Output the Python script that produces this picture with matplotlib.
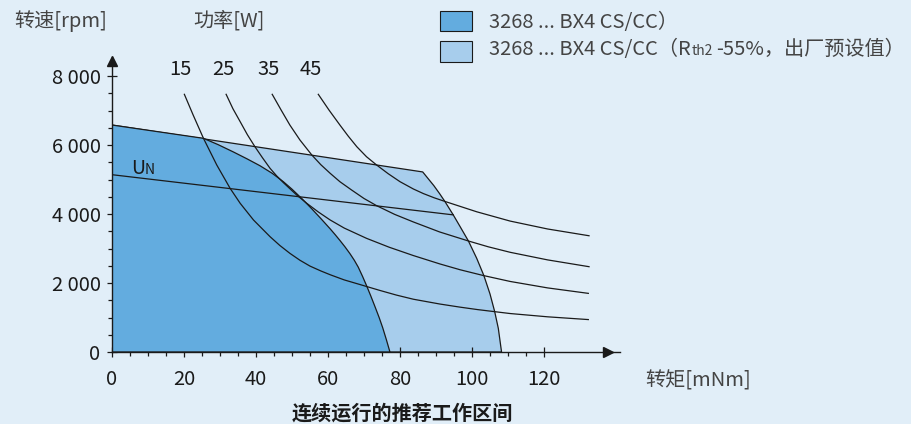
import matplotlib
matplotlib.use("Agg")
import matplotlib.pyplot as plt
from matplotlib.patches import Polygon, Rectangle
from matplotlib.ticker import FixedLocator
from matplotlib.transforms import offset_copy

plt.rcParams['font.family'] = ['Noto Sans CJK SC', 'DejaVu Sans']

# ---------------- data ----------------
power_levels = [15, 25, 35, 45]

p15_torque = [20.1, 22.5, 25.4, 29.1, 32.8, 35.6, 39.3, 43.9, 46.6, 49.4, 52.2, 55.0, 58.0, 60.6,
              64.5, 68.9, 74.4, 79.0, 83.7, 91.1, 96.7, 101.5, 106.3, 110.6, 121.0, 132.3]
p15_speed = [7470, 6880, 6195, 5421, 4746, 4311, 3827, 3343, 3090, 2861, 2660, 2490, 2350, 2240,
             2090, 1955, 1785, 1650, 1530, 1390, 1300, 1230, 1169, 1115, 1020, 940]

p25_torque = [31.7, 33.6, 35.6, 37.6, 39.7, 41.8, 43.9, 45.7, 47.6, 49.5, 51.3, 54.1, 57.3, 60.6,
              64.5, 70.7, 77.0, 83.7, 91.1, 96.7, 103.1, 110.6, 121.0, 132.3]
p25_speed = [7470, 7050, 6677, 6300, 5951, 5630, 5325, 5110, 4910, 4725, 4551, 4311, 4060, 3827,
             3593, 3295, 3037, 2796, 2552, 2384, 2218, 2045, 1858, 1700]

p35_torque = [44.5, 47.0, 49.4, 52.2, 55.5, 58.0, 60.6, 63.3, 66.5, 70.0, 73.5, 78.5, 83.7, 91.0,
              99.0, 104.5, 110.6, 121.0, 132.5]
p35_speed = [7470, 7010, 6580, 6146, 5711, 5430, 5180, 4937, 4700, 4450, 4242, 3990, 3770, 3480,
             3218, 3050, 2890, 2670, 2473]

p45_torque = [57.3, 60.3, 63.3, 65.6, 68.0, 70.7, 73.5, 76.7, 80.0, 83.7, 86.5, 89.5, 92.5, 101.3,
              110.6, 121.0, 132.5]
p45_speed = [7470, 7010, 6580, 6260, 5951, 5660, 5421, 5170, 4937, 4726, 4592, 4470, 4364, 4065,
             3795, 3566, 3370]

power_torque = [p15_torque, p25_torque, p35_torque, p45_torque]
power_speed = [p15_speed, p25_speed, p35_speed, p45_speed]

# recommended operating range, standard (dark)
std_torque = [0.0, 25.4, 29.5, 33.7, 37.5, 41.1, 44.5, 47.6, 50.0, 52.7, 55.5, 58.0, 60.6, 62.0,
              63.3, 64.7, 66.1, 67.3, 68.4, 69.6, 70.7, 71.9, 73.1, 74.2, 75.2, 76.2, 77.2]
std_speed = [6580, 6195, 6010, 5800, 5600, 5400, 5180, 4937, 4720, 4450, 4150, 3870, 3570, 3400,
             3235, 3050, 2850, 2660, 2460, 2190, 1925, 1620, 1300, 1000, 700, 360, 0]

# recommended operating range, Rth2 -55% (light)
ext_torque = [0.0, 86.3, 89.4, 91.0, 92.5, 94.8, 96.7, 99.0, 101.3, 103.3, 105.0, 106.3, 107.3, 108.2]
ext_speed = [6580, 5220, 4822, 4590, 4358, 3972, 3633, 3218, 2716, 2213, 1680, 1169, 686, 0]

# nominal voltage line
un_torque = [0.0, 94.8]
un_speed = [5140, 3975]

x_ticks = [0, 20, 40, 60, 80, 100, 120]
x_ticklabels = ["0", "20", "40", "60", "80", "100", "120"]
y_ticks = [0, 2000, 4000, 6000, 8000]
y_ticklabels = ["0", "2 000", "4 000", "6 000", "8 000"]
x_minor = list(range(0, 125, 5))
y_minor = list(range(0, 8500, 500))

legend_labels = ["3268 ... BX4 CS/CC）", "3268 ... BX4 CS/CC（R", "th2", "-55%，出厂预设值）"]

# ---------------- style ----------------
BG = "#E1EEF8"
DARK = "#63ACDF"
LIGHT = "#A7CDEC"
INK = "#1a1a1a"
GRAY = "#444444"
FS = 14.5

W, H = 911, 424
fig = plt.figure(figsize=(W / 100, H / 100), dpi=100)
fig.patch.set_facecolor(BG)
ax = fig.add_axes([112 / W, (H - 352) / H, 508 / W, 295 / H])
ax.set_facecolor("none")
ax.set_xlim(0, 141.1)
ax.set_ylim(0, 8552)

ax.add_patch(Polygon(list(zip(ext_torque, ext_speed)) + [(0, 0)], closed=True,
                     facecolor=LIGHT, edgecolor=INK, linewidth=0.9, joinstyle="round", zorder=1))
ax.add_patch(Polygon(list(zip(std_torque, std_speed)) + [(0, 0)], closed=True,
                     facecolor=DARK, edgecolor=INK, linewidth=0.9, joinstyle="round", zorder=2))
ax.plot(un_torque, un_speed, color=INK, linewidth=0.9, zorder=3)

label_torque = [19.0, 31.0, 43.4, 55.3]
for t, n, p, lx in zip(power_torque, power_speed, power_levels, label_torque):
    ax.plot(t, n, color=INK, linewidth=0.9, solid_joinstyle="round", zorder=3)
    ax.text(lx, 8200, str(p), fontsize=FS, ha="center", va="center", color=INK)

# axes
for s in ["top", "right"]:
    ax.spines[s].set_visible(False)
for s in ["left", "bottom"]:
    ax.spines[s].set_linewidth(1.0)
    ax.spines[s].set_color(INK)
    ax.spines[s].set_zorder(5)
ax.plot([0], [8422], marker="^", markersize=7, color=INK, clip_on=False, zorder=6)
ax.plot([137.9], [0], marker=">", markersize=7, color=INK, clip_on=False, zorder=6)

ax.set_xticks(x_ticks)
ax.set_xticklabels(x_ticklabels)
ax.set_yticks(y_ticks)
ax.set_yticklabels(y_ticklabels)
ax.xaxis.set_minor_locator(FixedLocator(x_minor))
ax.yaxis.set_minor_locator(FixedLocator(y_minor))
ax.tick_params(which="major", direction="inout", length=6.5, width=0.9, color=INK,
               labelsize=FS, labelcolor=INK)
ax.tick_params(axis="x", which="major", pad=9)
ax.tick_params(axis="y", which="major", pad=5)
ax.tick_params(which="minor", direction="out", length=3.2, width=0.9, color=INK)

# text labels
def fpos(x, y):
    return x / W, 1 - y / H

fig.text(*fpos(14, 27), "转速[rpm]", fontsize=FS, color=GRAY, va="baseline", ha="left")
fig.text(*fpos(193, 27), "功率[W]", fontsize=FS, color=GRAY, va="baseline", ha="left")
fig.text(*fpos(645, 386), "转矩[mNm]", fontsize=FS, color=GRAY, va="baseline", ha="left")
fig.text(*fpos(402, 420), "连续运行的推荐工作区间", fontsize=FS, fontweight="bold",
         color=INK, va="baseline", ha="center")

renderer = fig.canvas.get_renderer()

# U_N label
u = ax.text(5.3, 5160, "U", fontsize=14, color=INK, va="baseline", ha="left")
uw = u.get_window_extent(renderer).width
ax.text(5.3, 5160, "N", fontsize=10, color=INK, va="baseline", ha="left",
        transform=offset_copy(ax.transData, fig=fig, x=uw, units="dots"))

# legend
fig.patches.append(Rectangle(fpos(440, 31.3), 32 / W, 20.6 / H, transform=fig.transFigure,
                             facecolor=DARK, edgecolor=INK, linewidth=0.8))
fig.patches.append(Rectangle(fpos(440, 61.7), 32 / W, 21 / H, transform=fig.transFigure,
                             facecolor=LIGHT, edgecolor=INK, linewidth=0.8))
fig.text(*fpos(489, 28), legend_labels[0], fontsize=FS, color=GRAY, va="baseline", ha="left")

x = 489
for txt, fs, gap in [(legend_labels[1], FS, 0), (legend_labels[2], 10, 1), (legend_labels[3], FS, 3)]:
    x += gap
    t = fig.text(*fpos(x, 55), txt, fontsize=fs, color=GRAY, va="baseline", ha="left")
    x += t.get_window_extent(renderer).width

fig.savefig("out.png", dpi=100, facecolor=BG)
